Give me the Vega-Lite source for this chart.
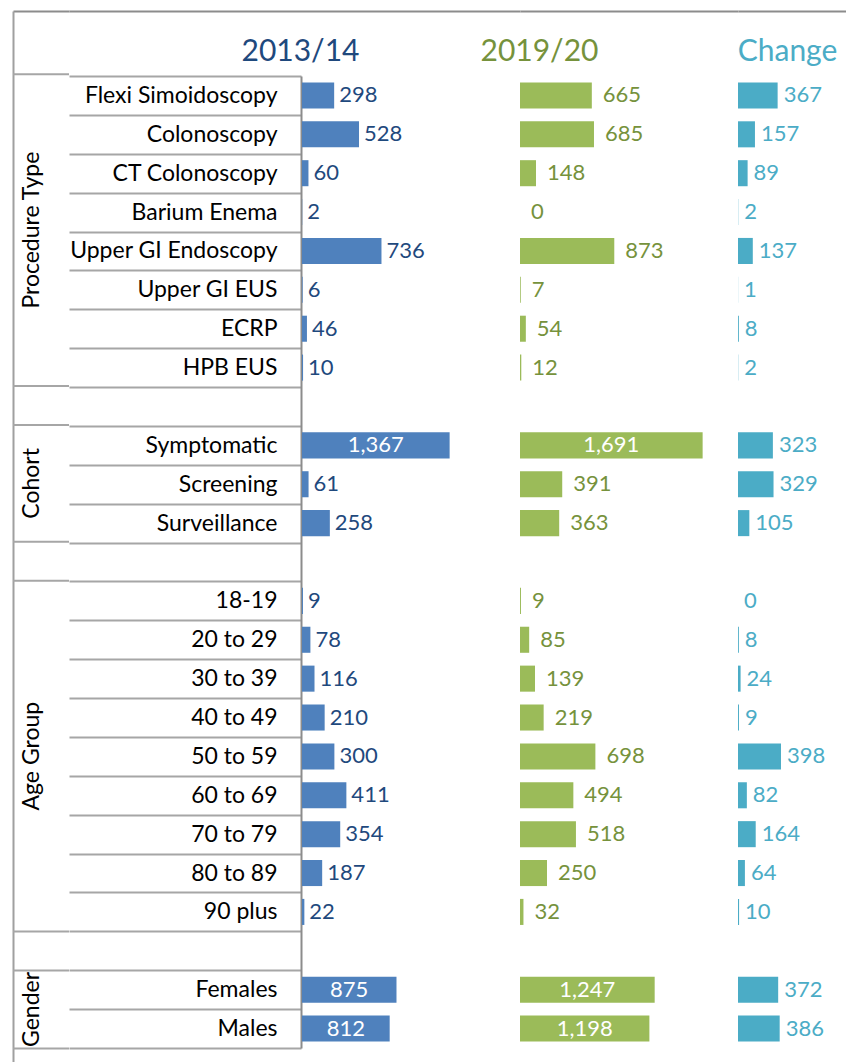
{
  "$schema": "https://vega.github.io/schema/vega-lite/v6.json",
  "background": "white",
  "padding": {"left": 12, "top": 0, "right": 0, "bottom": 0},
  "bounds": "flush",
  "spacing": 0,
  "resolve": {"scale": {"x": "independent", "y": "independent"}},
  "config": {"view": {"stroke": null}, "font": "Lato", "text": {"font": "Lato"}},
  "datasets": {
    "main": [
      {"row": "Flexi Simoidoscopy", "a": 298, "b": 665, "c": 367},
      {"row": "Colonoscopy", "a": 528, "b": 685, "c": 157},
      {"row": "CT Colonoscopy", "a": 60, "b": 148, "c": 89},
      {"row": "Barium Enema", "a": 2, "b": 0, "c": 2},
      {"row": "Upper GI Endoscopy", "a": 736, "b": 873, "c": 137},
      {"row": "Upper GI EUS", "a": 6, "b": 7, "c": 1},
      {"row": "ECRP", "a": 46, "b": 54, "c": 8},
      {"row": "HPB EUS", "a": 10, "b": 12, "c": 2},
      {"row": "Symptomatic", "a": 1367, "b": 1691, "c": 323},
      {"row": "Screening", "a": 61, "b": 391, "c": 329},
      {"row": "Surveillance", "a": 258, "b": 363, "c": 105},
      {"row": "18-19", "a": 9, "b": 9, "c": 0},
      {"row": "20 to 29", "a": 78, "b": 85, "c": 8},
      {"row": "30 to 39", "a": 116, "b": 139, "c": 24},
      {"row": "40 to 49", "a": 210, "b": 219, "c": 9},
      {"row": "50 to 59", "a": 300, "b": 698, "c": 398},
      {"row": "60 to 69", "a": 411, "b": 494, "c": 82},
      {"row": "70 to 79", "a": 354, "b": 518, "c": 164},
      {"row": "80 to 89", "a": 187, "b": 250, "c": 64},
      {"row": "90 plus", "a": 22, "b": 32, "c": 10},
      {"row": "Females", "a": 875, "b": 1247, "c": 372},
      {"row": "Males", "a": 812, "b": 1198, "c": 386}
    ],
    "grpEdge": [
      {"group": "Procedure Type", "row": "Barium Enema"},
      {"group": "Gender", "row": "Females"}
    ],
    "grpMid": [
      {"group": "Cohort", "row": "Screening"},
      {"group": "Age Group", "row": "50 to 59"}
    ],
    "sepTop": [
      {"row": "Flexi Simoidoscopy"},
      {"row": " "},
      {"row": "Symptomatic"},
      {"row": "  "},
      {"row": "18-19"},
      {"row": "   "},
      {"row": "Females"}
    ],
    "sepBottom": [
      {"row": "Males"}
    ]
  },
  "hconcat": [
    {
      "width": 56,
      "height": 1052,
      "layer": [
        {
          "data": {"name": "grpEdge"},
          "mark": {"type": "text", "angle": 270, "align": "center", "baseline": "alphabetic", "fontSize": 23, "color": "#000000"},
          "encoding": {
            "x": {"datum": 0.46, "type": "quantitative", "scale": {"domain": [0, 1]}, "axis": {"orient": "top", "domain": true, "domainColor": "#8c8c8c", "domainWidth": 2, "ticks": false, "labels": false, "grid": false, "title": null}},
            "y": {"field": "row", "type": "nominal", "bandPosition": 1,
                  "scale": {"type": "band", "domain": ["Flexi Simoidoscopy","Colonoscopy","CT Colonoscopy","Barium Enema","Upper GI Endoscopy","Upper GI EUS","ECRP","HPB EUS"," ","Symptomatic","Screening","Surveillance","  ","18-19","20 to 29","30 to 39","40 to 49","50 to 59","60 to 69","70 to 79","80 to 89","90 plus","   ","Females","Males"], "paddingInner": 0, "paddingOuter": 1.0288, "align": 0.8125},
                  "axis": {"orient": "left", "domain": true, "domainColor": "#a0a0a0", "domainWidth": 2, "ticks": false, "labels": false, "grid": false, "title": null}},
            "text": {"field": "group"}
          }
        },
        {
          "data": {"name": "grpMid"},
          "mark": {"type": "text", "angle": 270, "align": "center", "baseline": "alphabetic", "fontSize": 23, "color": "#000000"},
          "encoding": {
            "x": {"datum": 0.46, "type": "quantitative", "scale": {"domain": [0, 1]}, "axis": {"orient": "top", "domain": true, "domainColor": "#8c8c8c", "domainWidth": 2, "ticks": false, "labels": false, "grid": false, "title": null}},
            "y": {"field": "row", "type": "nominal", "bandPosition": 0.5,
                  "scale": {"type": "band", "domain": ["Flexi Simoidoscopy","Colonoscopy","CT Colonoscopy","Barium Enema","Upper GI Endoscopy","Upper GI EUS","ECRP","HPB EUS"," ","Symptomatic","Screening","Surveillance","  ","18-19","20 to 29","30 to 39","40 to 49","50 to 59","60 to 69","70 to 79","80 to 89","90 plus","   ","Females","Males"], "paddingInner": 0, "paddingOuter": 1.0288, "align": 0.8125},
                  "axis": {"orient": "left", "domain": true, "domainColor": "#a0a0a0", "domainWidth": 2, "ticks": false, "labels": false, "grid": false, "title": null}},
            "text": {"field": "group"}
          }
        },
        {
          "data": {"name": "sepTop"},
          "mark": {"type": "rule", "color": "#a6a6a6", "strokeWidth": 2},
          "encoding": {
            "y": {"field": "row", "type": "nominal", "bandPosition": 0,
                  "scale": {"type": "band", "domain": ["Flexi Simoidoscopy","Colonoscopy","CT Colonoscopy","Barium Enema","Upper GI Endoscopy","Upper GI EUS","ECRP","HPB EUS"," ","Symptomatic","Screening","Surveillance","  ","18-19","20 to 29","30 to 39","40 to 49","50 to 59","60 to 69","70 to 79","80 to 89","90 plus","   ","Females","Males"], "paddingInner": 0, "paddingOuter": 1.0288, "align": 0.8125},
                  "axis": {"orient": "left", "domain": true, "domainColor": "#a0a0a0", "domainWidth": 2, "ticks": false, "labels": false, "grid": false, "title": null}}
          }
        },
        {
          "data": {"name": "sepBottom"},
          "mark": {"type": "rule", "color": "#a6a6a6", "strokeWidth": 2},
          "encoding": {
            "y": {"field": "row", "type": "nominal", "bandPosition": 1,
                  "scale": {"type": "band", "domain": ["Flexi Simoidoscopy","Colonoscopy","CT Colonoscopy","Barium Enema","Upper GI Endoscopy","Upper GI EUS","ECRP","HPB EUS"," ","Symptomatic","Screening","Surveillance","  ","18-19","20 to 29","30 to 39","40 to 49","50 to 59","60 to 69","70 to 79","80 to 89","90 plus","   ","Females","Males"], "paddingInner": 0, "paddingOuter": 1.0288, "align": 0.8125},
                  "axis": {"orient": "left", "domain": true, "domainColor": "#a0a0a0", "domainWidth": 2, "ticks": false, "labels": false, "grid": false, "title": null}}
          }
        }
      ]
    },
    {
      "width": 451,
      "height": 1052,
      "resolve": {"scale": {"x": "independent"}},
      "layer": [
        {
          "data": {"name": "main"},
          "mark": {"type": "bar", "color": "#4f81bd", "height": {"band": 0.67}},
          "encoding": {
            "x": {"field": "a", "type": "quantitative", "scale": {"domain": [-2157, 2018.5], "nice": false, "zero": false},
                  "axis": {"orient": "top", "domain": true, "domainColor": "#8c8c8c", "domainWidth": 2, "ticks": false, "labels": false, "grid": false,
                           "title": "2013/14", "titleFont": "Lato", "titleFontSize": 30, "titleFontWeight": "normal", "titleColor": "#1f497d", "titleAlign": "center", "titleAnchor": "start", "titleBaseline": "alphabetic", "titleX": 231, "titleY": 49, "titlePadding": 0}},
            "y": {"field": "row", "type": "nominal",
                  "scale": {"type": "band", "domain": ["Flexi Simoidoscopy","Colonoscopy","CT Colonoscopy","Barium Enema","Upper GI Endoscopy","Upper GI EUS","ECRP","HPB EUS"," ","Symptomatic","Screening","Surveillance","  ","18-19","20 to 29","30 to 39","40 to 49","50 to 59","60 to 69","70 to 79","80 to 89","90 plus","   ","Females","Males"], "range": [65, 1037], "paddingInner": 0, "paddingOuter": 0},
                  "axis": {"orient": "left", "offset": -232, "domain": true, "domainColor": "#8c8c8c", "domainWidth": 2, "ticks": true, "tickColor": "#a6a6a6", "tickWidth": 2, "tickSize": 232, "tickBand": "extent", "labels": true, "labelFont": "Lato", "labelFontSize": 23, "labelColor": "#000000", "labelPadding": -208, "labelLimit": 300, "grid": false, "title": null}}
          }
        },
        {
          "data": {"name": "main"},
          "transform": [{"filter": "datum.a < 800"}],
          "mark": {"type": "text", "align": "left", "baseline": "middle", "dx": 5, "fontSize": 22, "color": "#1f497d"},
          "encoding": {
            "x": {"field": "a", "type": "quantitative", "scale": {"domain": [-2157, 2018.5], "nice": false, "zero": false}, "axis": null},
            "y": {"field": "row", "type": "nominal",
                  "scale": {"type": "band", "domain": ["Flexi Simoidoscopy","Colonoscopy","CT Colonoscopy","Barium Enema","Upper GI Endoscopy","Upper GI EUS","ECRP","HPB EUS"," ","Symptomatic","Screening","Surveillance","  ","18-19","20 to 29","30 to 39","40 to 49","50 to 59","60 to 69","70 to 79","80 to 89","90 plus","   ","Females","Males"], "range": [65, 1037], "paddingInner": 0, "paddingOuter": 0},
                  "axis": {"orient": "left", "offset": -232, "domain": true, "domainColor": "#8c8c8c", "domainWidth": 2, "ticks": true, "tickColor": "#a6a6a6", "tickWidth": 2, "tickSize": 232, "tickBand": "extent", "labels": true, "labelFont": "Lato", "labelFontSize": 23, "labelColor": "#000000", "labelPadding": -208, "labelLimit": 300, "grid": false, "title": null}},
            "text": {"field": "a", "type": "quantitative", "format": ",d"}
          }
        },
        {
          "data": {"name": "main"},
          "transform": [{"filter": "datum.a >= 800"}],
          "mark": {"type": "text", "align": "center", "baseline": "middle", "fontSize": 22, "color": "#ffffff"},
          "encoding": {
            "x": {"field": "a", "type": "quantitative", "scale": {"domain": [-4314, 4037], "nice": false, "zero": false}, "axis": null},
            "y": {"field": "row", "type": "nominal",
                  "scale": {"type": "band", "domain": ["Flexi Simoidoscopy","Colonoscopy","CT Colonoscopy","Barium Enema","Upper GI Endoscopy","Upper GI EUS","ECRP","HPB EUS"," ","Symptomatic","Screening","Surveillance","  ","18-19","20 to 29","30 to 39","40 to 49","50 to 59","60 to 69","70 to 79","80 to 89","90 plus","   ","Females","Males"], "range": [65, 1037], "paddingInner": 0, "paddingOuter": 0},
                  "axis": {"orient": "left", "offset": -232, "domain": true, "domainColor": "#8c8c8c", "domainWidth": 2, "ticks": true, "tickColor": "#a6a6a6", "tickWidth": 2, "tickSize": 232, "tickBand": "extent", "labels": true, "labelFont": "Lato", "labelFontSize": 23, "labelColor": "#000000", "labelPadding": -208, "labelLimit": 300, "grid": false, "title": null}},
            "text": {"field": "a", "type": "quantitative", "format": ",d"}
          }
        }
      ]
    },
    {
      "width": 218,
      "height": 1052,
      "resolve": {"scale": {"x": "independent"}},
      "layer": [
        {
          "data": {"name": "main"},
          "mark": {"type": "bar", "color": "#9bbb59", "height": {"band": 0.67}},
          "encoding": {
            "x": {"field": "b", "type": "quantitative", "scale": {"domain": [0, 2018.5], "nice": false, "zero": false},
                  "axis": {"orient": "top", "domain": true, "domainColor": "#8c8c8c", "domainWidth": 2, "ticks": false, "labels": false, "grid": false,
                           "title": "2019/20", "titleFont": "Lato", "titleFontSize": 30, "titleFontWeight": "normal", "titleColor": "#76923c", "titleAlign": "center", "titleAnchor": "start", "titleBaseline": "alphabetic", "titleX": 19, "titleY": 49, "titlePadding": 0}},
            "y": {"field": "row", "type": "nominal",
                  "scale": {"type": "band", "domain": ["Flexi Simoidoscopy","Colonoscopy","CT Colonoscopy","Barium Enema","Upper GI Endoscopy","Upper GI EUS","ECRP","HPB EUS"," ","Symptomatic","Screening","Surveillance","  ","18-19","20 to 29","30 to 39","40 to 49","50 to 59","60 to 69","70 to 79","80 to 89","90 plus","   ","Females","Males"], "range": [65, 1037], "paddingInner": 0, "paddingOuter": 0},
                  "axis": null}
          }
        },
        {
          "data": {"name": "main"},
          "transform": [{"filter": "datum.b < 1000"}],
          "mark": {"type": "text", "align": "left", "baseline": "middle", "dx": 11, "fontSize": 22, "color": "#76923c"},
          "encoding": {
            "x": {"field": "b", "type": "quantitative", "scale": {"domain": [0, 2018.5], "nice": false, "zero": false}, "axis": null},
            "y": {"field": "row", "type": "nominal",
                  "scale": {"type": "band", "domain": ["Flexi Simoidoscopy","Colonoscopy","CT Colonoscopy","Barium Enema","Upper GI Endoscopy","Upper GI EUS","ECRP","HPB EUS"," ","Symptomatic","Screening","Surveillance","  ","18-19","20 to 29","30 to 39","40 to 49","50 to 59","60 to 69","70 to 79","80 to 89","90 plus","   ","Females","Males"], "range": [65, 1037], "paddingInner": 0, "paddingOuter": 0},
                  "axis": null},
            "text": {"field": "b", "type": "quantitative", "format": ",d"}
          }
        },
        {
          "data": {"name": "main"},
          "transform": [{"filter": "datum.b >= 1000"}],
          "mark": {"type": "text", "align": "center", "baseline": "middle", "fontSize": 22, "color": "#ffffff"},
          "encoding": {
            "x": {"field": "b", "type": "quantitative", "scale": {"domain": [0, 4037], "nice": false, "zero": false}, "axis": null},
            "y": {"field": "row", "type": "nominal",
                  "scale": {"type": "band", "domain": ["Flexi Simoidoscopy","Colonoscopy","CT Colonoscopy","Barium Enema","Upper GI Endoscopy","Upper GI EUS","ECRP","HPB EUS"," ","Symptomatic","Screening","Surveillance","  ","18-19","20 to 29","30 to 39","40 to 49","50 to 59","60 to 69","70 to 79","80 to 89","90 plus","   ","Females","Males"], "range": [65, 1037], "paddingInner": 0, "paddingOuter": 0},
                  "axis": null},
            "text": {"field": "b", "type": "quantitative", "format": ",d"}
          }
        }
      ]
    },
    {
      "width": 109,
      "height": 1052,
      "layer": [
        {
          "data": {"name": "main"},
          "mark": {"type": "bar", "color": "#4bacc6", "height": {"band": 0.67}},
          "encoding": {
            "x": {"field": "c", "type": "quantitative", "scale": {"domain": [0, 1009.25], "nice": false, "zero": false},
                  "axis": {"orient": "top", "domain": true, "domainColor": "#8c8c8c", "domainWidth": 2, "ticks": false, "labels": false, "grid": false,
                           "title": "Change", "titleFont": "Lato", "titleFontSize": 30, "titleFontWeight": "normal", "titleColor": "#4bacc6", "titleAlign": "center", "titleAnchor": "start", "titleBaseline": "alphabetic", "titleX": 49, "titleY": 49, "titlePadding": 0}},
            "y": {"field": "row", "type": "nominal",
                  "scale": {"type": "band", "domain": ["Flexi Simoidoscopy","Colonoscopy","CT Colonoscopy","Barium Enema","Upper GI Endoscopy","Upper GI EUS","ECRP","HPB EUS"," ","Symptomatic","Screening","Surveillance","  ","18-19","20 to 29","30 to 39","40 to 49","50 to 59","60 to 69","70 to 79","80 to 89","90 plus","   ","Females","Males"], "range": [65, 1037], "paddingInner": 0, "paddingOuter": 0},
                  "axis": null}
          }
        },
        {
          "data": {"name": "main"},
          "mark": {"type": "text", "align": "left", "baseline": "middle", "dx": 6, "fontSize": 22, "color": "#4bacc6"},
          "encoding": {
            "x": {"field": "c", "type": "quantitative", "scale": {"domain": [0, 1009.25], "nice": false, "zero": false},
                  "axis": {"orient": "top", "domain": true, "domainColor": "#8c8c8c", "domainWidth": 2, "ticks": false, "labels": false, "grid": false,
                           "title": "Change", "titleFont": "Lato", "titleFontSize": 30, "titleFontWeight": "normal", "titleColor": "#4bacc6", "titleAlign": "center", "titleAnchor": "start", "titleBaseline": "alphabetic", "titleX": 49, "titleY": 49, "titlePadding": 0}},
            "y": {"field": "row", "type": "nominal",
                  "scale": {"type": "band", "domain": ["Flexi Simoidoscopy","Colonoscopy","CT Colonoscopy","Barium Enema","Upper GI Endoscopy","Upper GI EUS","ECRP","HPB EUS"," ","Symptomatic","Screening","Surveillance","  ","18-19","20 to 29","30 to 39","40 to 49","50 to 59","60 to 69","70 to 79","80 to 89","90 plus","   ","Females","Males"], "range": [65, 1037], "paddingInner": 0, "paddingOuter": 0},
                  "axis": null},
            "text": {"field": "c", "type": "quantitative", "format": ",d"}
          }
        }
      ]
    }
  ]
}
